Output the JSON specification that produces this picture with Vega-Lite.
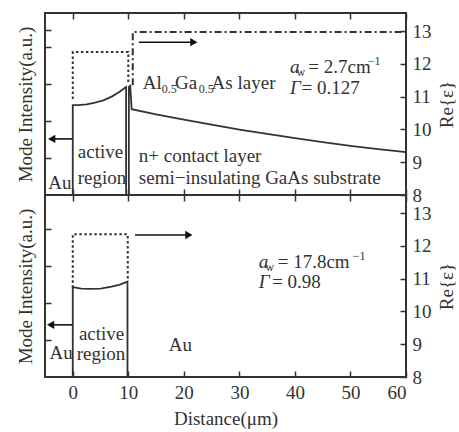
{
  "$schema": "https://vega.github.io/schema/vega-lite/v6.json",
  "padding": {"left": 15, "top": 11, "right": 0, "bottom": 0},
  "spacing": 0,
  "bounds": "flush",
  "datasets": {
    "topI": [
      {"i": 0, "x": 0, "v": 0}, {"i": 1, "x": 0, "v": 2.43}, {"i": 2, "x": 1, "v": 2.43},
      {"i": 3, "x": 2.5, "v": 2.45}, {"i": 4, "x": 4, "v": 2.5}, {"i": 5, "x": 5.5, "v": 2.56},
      {"i": 6, "x": 7, "v": 2.66}, {"i": 7, "x": 8.3, "v": 2.78}, {"i": 8, "x": 9.6, "v": 2.92},
      {"i": 9, "x": 9.6, "v": 0}, {"i": 10, "x": 10.1, "v": 0}, {"i": 11, "x": 10.1, "v": 2.92},
      {"i": 12, "x": 10.35, "v": 2.95}, {"i": 13, "x": 10.6, "v": 2.32}, {"i": 14, "x": 15, "v": 2.18},
      {"i": 15, "x": 20, "v": 2.04}, {"i": 16, "x": 25, "v": 1.9}, {"i": 17, "x": 30, "v": 1.77},
      {"i": 18, "x": 35, "v": 1.65}, {"i": 19, "x": 40, "v": 1.54}, {"i": 20, "x": 45, "v": 1.43},
      {"i": 21, "x": 50, "v": 1.33}, {"i": 22, "x": 55, "v": 1.24}, {"i": 23, "x": 60, "v": 1.16}
    ],
    "topR1": [
      {"i": 0, "x": 0, "y": 10.93}, {"i": 1, "x": 0, "y": 12.36},
      {"i": 2, "x": 10.0, "y": 12.36}, {"i": 3, "x": 10.0, "y": 11.38}
    ],
    "topR2": [
      {"i": 0, "x": 10.8, "y": 11.35}, {"i": 1, "x": 10.8, "y": 12.97}, {"i": 2, "x": 60, "y": 12.97}
    ],
    "topA": [
      {"x": 0, "x2": -3.8, "y": 9.71}, {"x": 11.9, "x2": 21.8, "y": 12.66}
    ],
    "topH": [
      {"x": -3.8, "y": 9.71, "dir": "L"}, {"x": 21.8, "y": 12.66, "dir": "R"}
    ],
    "topT": [
      {"x": -4.4, "y": 8.18, "t": "Au"},
      {"x": 0.9, "y": 9.13, "t": "active"},
      {"x": 0.9, "y": 8.34, "t": "region"},
      {"x": 11.9, "y": 9.01, "t": "n+  contact layer"},
      {"x": 11.9, "y": 8.34, "t": "semi−insulating GaAs substrate"},
      {"x": 12.6, "y": 11.22, "t": "Al"},
      {"x": 18.4, "y": 11.22, "t": "Ga"},
      {"x": 25.0, "y": 11.22, "t": "As layer"},
      {"x": 42.4, "y": 11.72, "t": "= 2.7cm"},
      {"x": 41.2, "y": 11.08, "t": "= 0.127"}
    ],
    "topSub": [
      {"x": 16.0, "y": 11.1, "t": "0.5"},
      {"x": 22.7, "y": 11.1, "t": "0.5"},
      {"x": 40.3, "y": 11.63, "t": "w"}
    ],
    "topSup": [
      {"x": 53.1, "y": 11.96, "t": "−1"}
    ],
    "topIt": [
      {"x": 39.1, "y": 11.72, "t": "a"},
      {"x": 39.1, "y": 11.08, "t": "Γ"}
    ],
    "botI": [
      {"i": 0, "x": 0, "v": 0}, {"i": 1, "x": 0, "v": 2.43}, {"i": 2, "x": 1.5, "v": 2.39},
      {"i": 3, "x": 3, "v": 2.38}, {"i": 4, "x": 5, "v": 2.39}, {"i": 5, "x": 7, "v": 2.44},
      {"i": 6, "x": 8.5, "v": 2.5}, {"i": 7, "x": 9.85, "v": 2.58}, {"i": 8, "x": 9.85, "v": 0}
    ],
    "botR1": [
      {"i": 0, "x": 0, "y": 10.72}, {"i": 1, "x": 0, "y": 12.35},
      {"i": 2, "x": 9.9, "y": 12.35}, {"i": 3, "x": 9.9, "y": 10.93}
    ],
    "botA": [
      {"x": 0, "x2": -4.0, "y": 9.59}, {"x": 11.2, "x2": 20.9, "y": 12.33}
    ],
    "botH": [
      {"x": -4.0, "y": 9.59, "dir": "L"}, {"x": 20.9, "y": 12.33, "dir": "R"}
    ],
    "botT": [
      {"x": -4.2, "y": 8.55, "t": "Au"},
      {"x": 1.1, "y": 9.13, "t": "active"},
      {"x": 0.7, "y": 8.52, "t": "region"},
      {"x": 17.3, "y": 8.79, "t": "Au"},
      {"x": 36.9, "y": 11.33, "t": "= 17.8cm"},
      {"x": 35.9, "y": 10.72, "t": "= 0.98"}
    ],
    "botSub": [
      {"x": 34.7, "y": 11.23, "t": "w"}
    ],
    "botSup": [
      {"x": 50.4, "y": 11.56, "t": "−1"}
    ],
    "botIt": [
      {"x": 33.5, "y": 11.33, "t": "a"},
      {"x": 33.5, "y": 10.72, "t": "Γ"}
    ]
  },
  "vconcat": [
    {
      "width": 361,
      "height": 182,
      "layer": [
        {
          "data": {"name": "topI"},
          "mark": {"type": "line", "color": "#333", "strokeWidth": 1.8},
          "encoding": {
            "x": {"field": "x", "type": "quantitative", "scale": {"domain": [-5, 60], "nice": false, "zero": false},
                  "axis": {"orient": "bottom", "values": [0, 10, 20, 30, 40, 50, 60], "labels": false, "title": null}},
            "y": {"field": "v", "type": "quantitative", "scale": {"domain": [0, 4.92], "nice": false, "zero": false},
                  "axis": {"orient": "left", "values": [1, 2, 3, 4, 4.46], "labels": false, "title": "Mode Intensity(a.u.)"}},
            "order": {"field": "i", "type": "quantitative"}
          }
        },
        {
          "encoding": {
            "x": {"field": "x", "type": "quantitative", "scale": {"domain": [-5, 60], "nice": false, "zero": false},
                  "axis": {"orient": "top", "values": [0, 10, 20, 30, 40, 50, 60], "labels": false, "title": null}},
            "y": {"field": "y", "type": "quantitative", "scale": {"domain": [8, 13.55], "nice": false, "zero": false},
                  "axis": {"orient": "right", "values": [8, 9, 10, 11, 12, 13], "title": "Re{ε}", "titleAngle": 270, "titleBaseline": "top"}}
          },
          "layer": [
            {"data": {"name": "topR1"}, "mark": {"type": "line", "color": "#333", "strokeWidth": 2, "strokeDash": [2.5, 2.5]},
             "encoding": {"order": {"field": "i", "type": "quantitative"}}},
            {"data": {"name": "topR2"}, "mark": {"type": "line", "color": "#333", "strokeWidth": 2, "strokeDash": [7, 3, 2, 3]},
             "encoding": {"order": {"field": "i", "type": "quantitative"}}},
            {"data": {"name": "topA"}, "mark": {"type": "rule", "color": "#111", "strokeWidth": 1.6},
             "encoding": {"x2": {"field": "x2"}}},
            {"data": {"name": "topH"}, "mark": {"type": "point", "filled": true, "color": "#111", "size": 70, "opacity": 1},
             "encoding": {"shape": {"field": "dir", "type": "nominal", "scale": {"domain": ["L", "R"], "range": ["triangle-left", "triangle-right"]}, "legend": null}}},
            {"data": {"name": "topT"}, "mark": {"type": "text", "align": "left", "baseline": "alphabetic", "fontSize": 19, "color": "#333", "font": "Liberation Serif"},
             "encoding": {"text": {"field": "t"}}},
            {"data": {"name": "topSub"}, "mark": {"type": "text", "align": "left", "baseline": "alphabetic", "fontSize": 12, "color": "#333", "font": "Liberation Serif"},
             "encoding": {"text": {"field": "t"}}},
            {"data": {"name": "topSup"}, "mark": {"type": "text", "align": "left", "baseline": "alphabetic", "fontSize": 12, "color": "#333", "font": "Liberation Serif"},
             "encoding": {"text": {"field": "t"}}},
            {"data": {"name": "topIt"}, "mark": {"type": "text", "align": "left", "baseline": "alphabetic", "fontSize": 19, "fontStyle": "italic", "color": "#333", "font": "Liberation Serif"},
             "encoding": {"text": {"field": "t"}}}
          ]
        }
      ],
      "resolve": {"scale": {"y": "independent"}, "axis": {"x": "independent", "y": "independent"}}
    },
    {
      "width": 361,
      "height": 182,
      "layer": [
        {
          "data": {"name": "botI"},
          "mark": {"type": "line", "color": "#333", "strokeWidth": 1.8},
          "encoding": {
            "x": {"field": "x", "type": "quantitative", "scale": {"domain": [-5, 60], "nice": false, "zero": false},
                  "axis": {"orient": "bottom", "values": [0, 10, 20, 30, 40, 50, 60], "title": "Distance(μm)"}},
            "y": {"field": "v", "type": "quantitative", "scale": {"domain": [0, 4.92], "nice": false, "zero": false},
                  "axis": {"orient": "left", "values": [1, 2, 3, 4], "labels": false, "title": "Mode Intensity(a.u.)"}},
            "order": {"field": "i", "type": "quantitative"}
          }
        },
        {
          "encoding": {
            "x": {"field": "x", "type": "quantitative", "scale": {"domain": [-5, 60], "nice": false, "zero": false},
                  "axis": {"orient": "top", "values": [0, 10, 20, 30, 40, 50, 60], "labels": false, "title": null}},
            "y": {"field": "y", "type": "quantitative", "scale": {"domain": [8, 13.55], "nice": false, "zero": false},
                  "axis": {"orient": "right", "values": [8, 9, 10, 11, 12, 13], "title": "Re{ε}", "titleAngle": 270, "titleBaseline": "top"}}
          },
          "layer": [
            {"data": {"name": "botR1"}, "mark": {"type": "line", "color": "#333", "strokeWidth": 2, "strokeDash": [2.5, 2.5]},
             "encoding": {"order": {"field": "i", "type": "quantitative"}}},
            {"data": {"name": "botA"}, "mark": {"type": "rule", "color": "#111", "strokeWidth": 1.6},
             "encoding": {"x2": {"field": "x2"}}},
            {"data": {"name": "botH"}, "mark": {"type": "point", "filled": true, "color": "#111", "size": 70, "opacity": 1},
             "encoding": {"shape": {"field": "dir", "type": "nominal", "scale": {"domain": ["L", "R"], "range": ["triangle-left", "triangle-right"]}, "legend": null}}},
            {"data": {"name": "botT"}, "mark": {"type": "text", "align": "left", "baseline": "alphabetic", "fontSize": 19, "color": "#333", "font": "Liberation Serif"},
             "encoding": {"text": {"field": "t"}}},
            {"data": {"name": "botSub"}, "mark": {"type": "text", "align": "left", "baseline": "alphabetic", "fontSize": 12, "color": "#333", "font": "Liberation Serif"},
             "encoding": {"text": {"field": "t"}}},
            {"data": {"name": "botSup"}, "mark": {"type": "text", "align": "left", "baseline": "alphabetic", "fontSize": 12, "color": "#333", "font": "Liberation Serif"},
             "encoding": {"text": {"field": "t"}}},
            {"data": {"name": "botIt"}, "mark": {"type": "text", "align": "left", "baseline": "alphabetic", "fontSize": 19, "fontStyle": "italic", "color": "#333", "font": "Liberation Serif"},
             "encoding": {"text": {"field": "t"}}}
          ]
        }
      ],
      "resolve": {"scale": {"y": "independent"}, "axis": {"x": "independent", "y": "independent"}}
    }
  ],
  "config": {
    "font": "Liberation Serif",
    "view": {"stroke": "#333", "strokeWidth": 2},
    "axis": {
      "domain": false, "grid": false, "tickSize": -6, "tickColor": "#333", "tickWidth": 1.5,
      "labelFont": "Liberation Serif", "labelFontSize": 19, "labelColor": "#333", "labelPadding": 12,
      "titleFont": "Liberation Serif", "titleFontSize": 19, "titleFontWeight": "normal", "titleColor": "#333"
    },
    "axisLeft": {"titlePadding": 9},
    "axisRight": {"titlePadding": 6},
    "axisBottom": {"titlePadding": 7}
  }
}
